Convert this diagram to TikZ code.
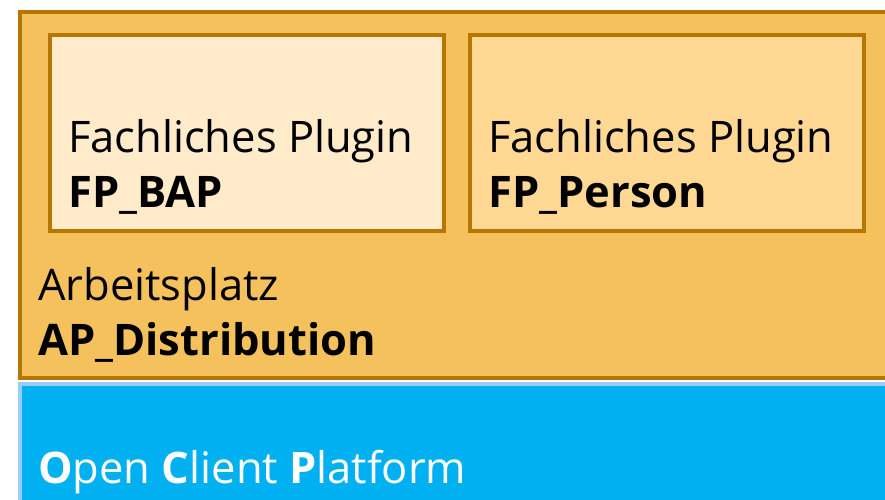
\documentclass[tikz,border=0pt]{standalone}
\usepackage{fontspec}
\setmainfont{Open Sans}
\usetikzlibrary{positioning}
\definecolor{apfill}{HTML}{F5C15C}
\definecolor{apline}{HTML}{B57700}
\definecolor{bapfill}{HTML}{FFEBC9}
\definecolor{personfill}{HTML}{FFD894}
\definecolor{ocpfill}{HTML}{00B0F0}
\definecolor{ocpline}{HTML}{99CCFF}
\begin{document}
\begin{tikzpicture}[x=1pt, y=-1pt]
        \tikzset{
            frame/.style={draw=apline, line width=4pt, anchor=north west, inner sep=0pt},
            plugin/.style={draw=apline, line width=4pt, minimum width=394pt, minimum height=196pt, anchor=north west, inner sep=0pt},
            label/.style={anchor=base west, inner sep=0pt, font=\fontsize{43.5}{48}\selectfont}
        }
        \useasboundingbox (0,0) rectangle (885,499);
        \clip (0,0) rectangle (885,499);

        % Arbeitsplatz
        \node [frame, fill=apfill, minimum width=900pt, minimum height=366pt] (ap) at (18,10) {};

        % Fachliche Plugins
        \node [plugin, fill=bapfill] (bap) at (48,33) {};
        \node [plugin, fill=personfill] (person) at (468,33) {};

        % Open Client Platform
        \node [frame, draw=ocpline, fill=ocpfill, minimum width=900pt, minimum height=160pt] (ocp) at (18,382) {};

        % Texte
        \node [label] (bap1) at (68,152) {Fachliches Plugin};
        \node [label] (bap2) at (68,207) {\textbf{FP\_BAP}};
        \node [label] (person1) at (488,152) {Fachliches Plugin};
        \node [label] (person2) at (488,207) {\textbf{FP\_Person}};
        \node [label] (ap1) at (38,300) {Arbeitsplatz};
        \node [label] (ap2) at (38,355) {\textbf{AP\_Distribution}};
        \node [label, text=white] (ocp1) at (38,483) {\textbf{O}pen \textbf{C}lient \textbf{P}latform};

\end{tikzpicture}
\end{document}
